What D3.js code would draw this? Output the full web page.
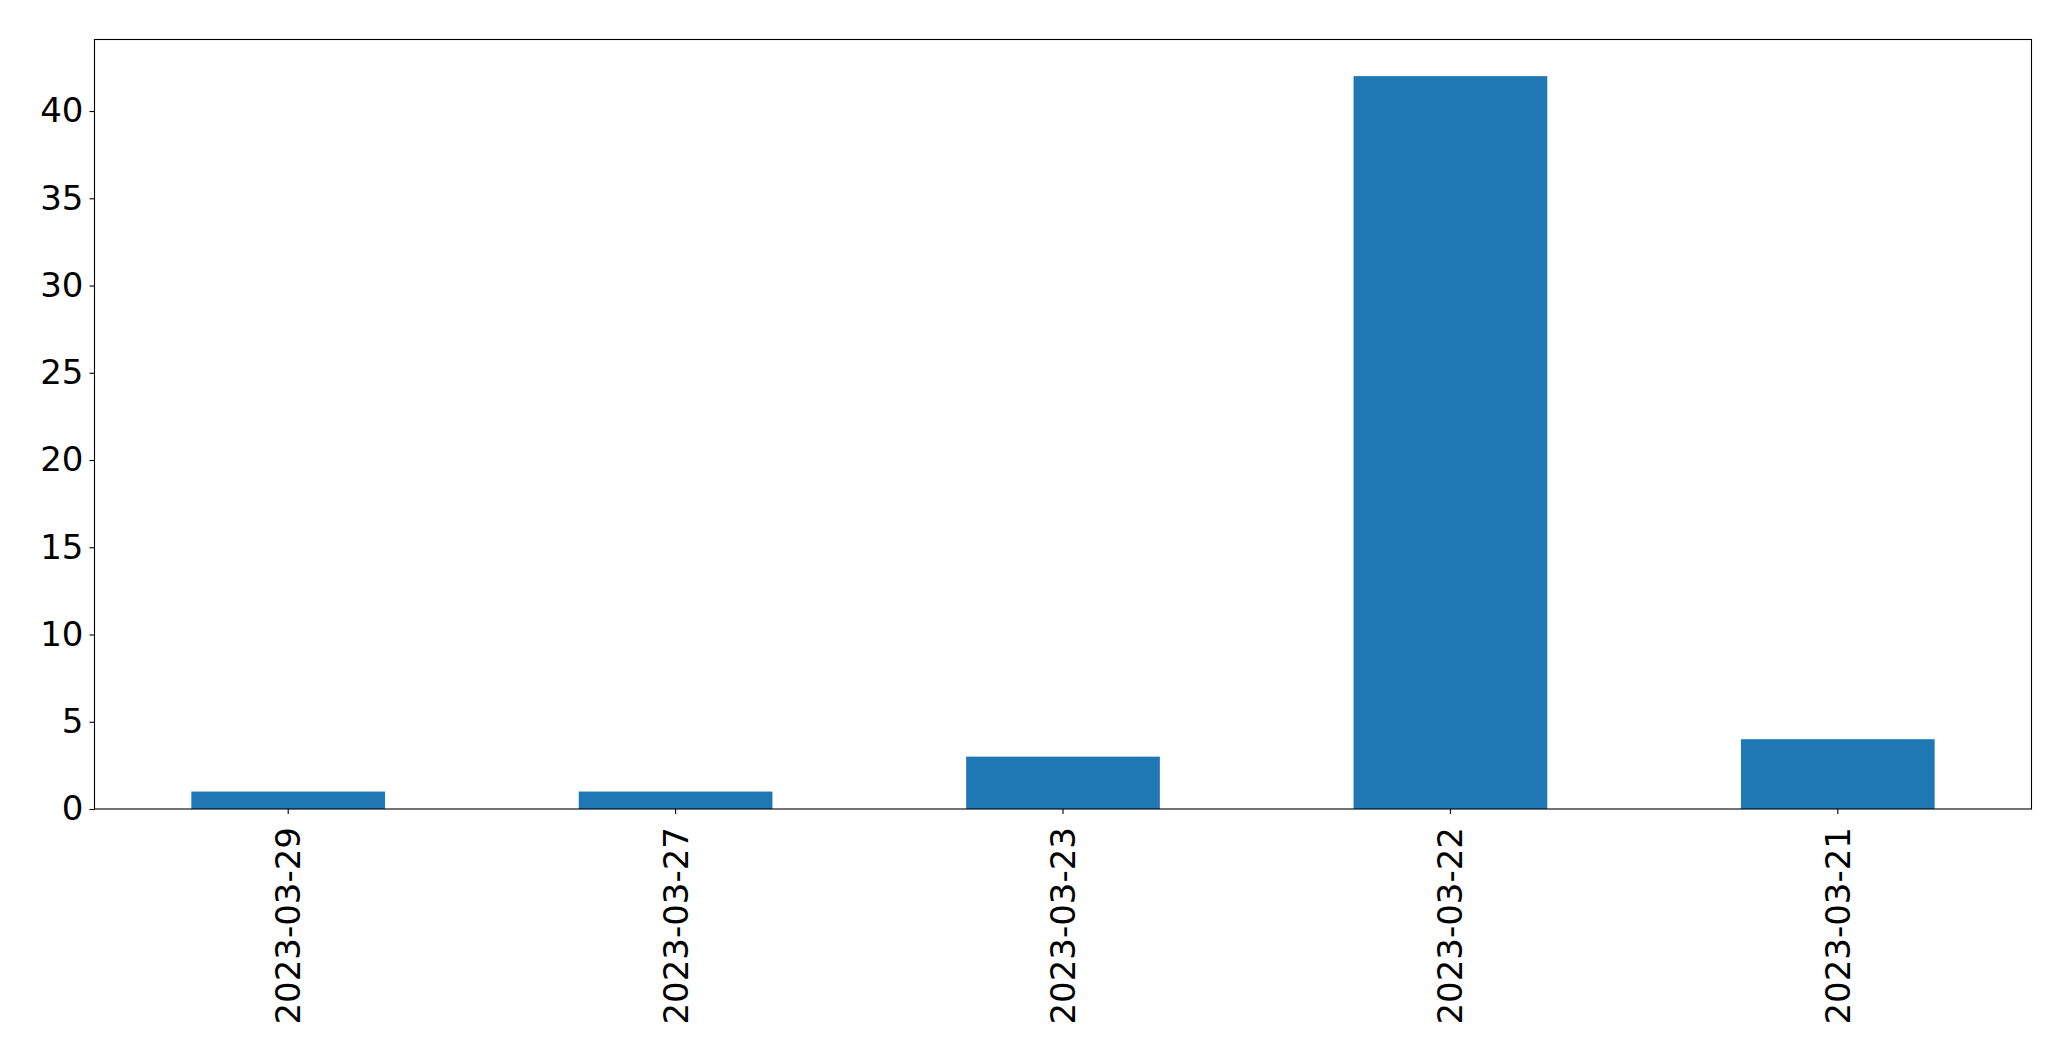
<!DOCTYPE html>
<html><head><meta charset="utf-8">
<script src="https://cdn.jsdelivr.net/npm/d3@7"></script>
<style>html,body{margin:0;padding:0;background:#fff;}svg{display:block;}</style>
</head><body>
<script>
const categories = ["2023-03-29","2023-03-27","2023-03-23","2023-03-22","2023-03-21"];
const values = [1, 1, 3, 42, 4];
const yTicks = [0, 5, 10, 15, 20, 25, 30, 35, 40];

(function () {
const W = 2071, H = 1061;
const mLeft = 94.5, mRight = 2031.5, mTop = 39.5, mBottom = 809;
const svg = d3.select("body").append("svg").attr("width", W).attr("height", H);

const x = d3.scaleBand().domain(categories).range([mLeft, mRight]).paddingInner(0.5).paddingOuter(0.25);
const y = d3.scaleLinear().domain([0, d3.max(values) * 1.05]).range([mBottom, mTop]);

svg.append("g").selectAll("rect").data(values).join("rect")
  .attr("x", (d, i) => x(categories[i]))
  .attr("width", x.bandwidth())
  .attr("y", d => y(d))
  .attr("height", d => y(0) - y(d))
  .attr("fill", "#1f77b4");

const font = "'DejaVu Sans', sans-serif";
const yAxis = svg.append("g").attr("transform", `translate(${mLeft},0)`)
  .call(d3.axisLeft(y).tickValues(yTicks).tickSize(5).tickPadding(6).tickFormat(d3.format("d")));
yAxis.select(".domain").remove();
yAxis.selectAll("line").attr("stroke", "#000").attr("stroke-width", 1.1);
yAxis.selectAll("text").attr("font-family", font).attr("font-size", 34).attr("fill", "#000");

const xAxis = svg.append("g").attr("transform", `translate(0,${mBottom})`)
  .call(d3.axisBottom(x).tickSize(5).tickPadding(0));
xAxis.select(".domain").remove();
xAxis.selectAll("line").attr("stroke", "#000").attr("stroke-width", 1.1);
xAxis.selectAll("text")
  .attr("font-family", font).attr("font-size", 34).attr("fill", "#000")
  .attr("text-anchor", "end")
  .attr("transform", "translate(0,18) rotate(-90)")
  .attr("x", 0).attr("y", 0).attr("dy", "0.35em");

svg.append("rect").attr("x", mLeft).attr("y", mTop).attr("width", mRight - mLeft).attr("height", mBottom - mTop)
  .attr("fill", "none").attr("stroke", "#000").attr("stroke-width", 1.1);
})();
</script>
</body></html>
